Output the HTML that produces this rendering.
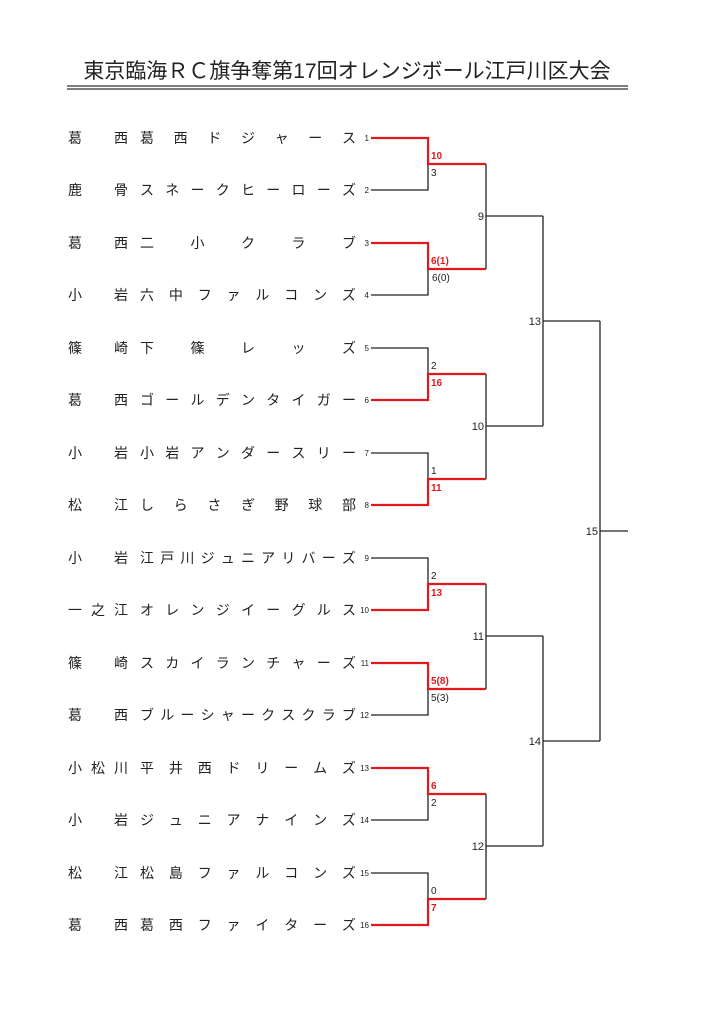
<!DOCTYPE html>
<html><head><meta charset="utf-8"><style>
body{margin:0;width:724px;height:1024px;background:#fff;position:relative;font-family:"Liberation Sans","Noto Sans CJK JP",sans-serif;color:#222;overflow:hidden}
.title{position:absolute;left:47px;width:600px;top:58px;text-align:center;font-size:21px;line-height:28px;white-space:nowrap}
.row{position:absolute;left:68px;width:288px;height:20px;font-size:14px;line-height:20px}
.reg{position:absolute;left:0;width:60px;display:flex;justify-content:space-between}
.nm{position:absolute;left:72px;width:216px;display:flex;justify-content:space-between}
svg{position:absolute;left:0;top:0}
</style></head><body>
<div class="title">東京臨海ＲＣ旗争奪第17回オレンジボール江戸川区大会</div>

<div class="row" style="top:128px"><div class="reg"><span>葛</span><span>西</span></div><div class="nm"><span>葛</span><span>西</span><span>ド</span><span>ジ</span><span>ャ</span><span>ー</span><span>ス</span></div></div>
<div class="row" style="top:180px"><div class="reg"><span>鹿</span><span>骨</span></div><div class="nm"><span>ス</span><span>ネ</span><span>ー</span><span>ク</span><span>ヒ</span><span>ー</span><span>ロ</span><span>ー</span><span>ズ</span></div></div>
<div class="row" style="top:233px"><div class="reg"><span>葛</span><span>西</span></div><div class="nm"><span>二</span><span>小</span><span>ク</span><span>ラ</span><span>ブ</span></div></div>
<div class="row" style="top:285px"><div class="reg"><span>小</span><span>岩</span></div><div class="nm"><span>六</span><span>中</span><span>フ</span><span>ァ</span><span>ル</span><span>コ</span><span>ン</span><span>ズ</span></div></div>
<div class="row" style="top:338px"><div class="reg"><span>篠</span><span>崎</span></div><div class="nm"><span>下</span><span>篠</span><span>レ</span><span>ッ</span><span>ズ</span></div></div>
<div class="row" style="top:390px"><div class="reg"><span>葛</span><span>西</span></div><div class="nm"><span>ゴ</span><span>ー</span><span>ル</span><span>デ</span><span>ン</span><span>タ</span><span>イ</span><span>ガ</span><span>ー</span></div></div>
<div class="row" style="top:443px"><div class="reg"><span>小</span><span>岩</span></div><div class="nm"><span>小</span><span>岩</span><span>ア</span><span>ン</span><span>ダ</span><span>ー</span><span>ス</span><span>リ</span><span>ー</span></div></div>
<div class="row" style="top:495px"><div class="reg"><span>松</span><span>江</span></div><div class="nm"><span>し</span><span>ら</span><span>さ</span><span>ぎ</span><span>野</span><span>球</span><span>部</span></div></div>
<div class="row" style="top:548px"><div class="reg"><span>小</span><span>岩</span></div><div class="nm"><span>江</span><span>戸</span><span>川</span><span>ジ</span><span>ュ</span><span>ニ</span><span>ア</span><span>リ</span><span>バ</span><span>ー</span><span>ズ</span></div></div>
<div class="row" style="top:600px"><div class="reg"><span>一</span><span>之</span><span>江</span></div><div class="nm"><span>オ</span><span>レ</span><span>ン</span><span>ジ</span><span>イ</span><span>ー</span><span>グ</span><span>ル</span><span>ス</span></div></div>
<div class="row" style="top:653px"><div class="reg"><span>篠</span><span>崎</span></div><div class="nm"><span>ス</span><span>カ</span><span>イ</span><span>ラ</span><span>ン</span><span>チ</span><span>ャ</span><span>ー</span><span>ズ</span></div></div>
<div class="row" style="top:705px"><div class="reg"><span>葛</span><span>西</span></div><div class="nm"><span>ブ</span><span>ル</span><span>ー</span><span>シ</span><span>ャ</span><span>ー</span><span>ク</span><span>ス</span><span>ク</span><span>ラ</span><span>ブ</span></div></div>
<div class="row" style="top:758px"><div class="reg"><span>小</span><span>松</span><span>川</span></div><div class="nm"><span>平</span><span>井</span><span>西</span><span>ド</span><span>リ</span><span>ー</span><span>ム</span><span>ズ</span></div></div>
<div class="row" style="top:810px"><div class="reg"><span>小</span><span>岩</span></div><div class="nm"><span>ジ</span><span>ュ</span><span>ニ</span><span>ア</span><span>ナ</span><span>イ</span><span>ン</span><span>ズ</span></div></div>
<div class="row" style="top:863px"><div class="reg"><span>松</span><span>江</span></div><div class="nm"><span>松</span><span>島</span><span>フ</span><span>ァ</span><span>ル</span><span>コ</span><span>ン</span><span>ズ</span></div></div>
<div class="row" style="top:915px"><div class="reg"><span>葛</span><span>西</span></div><div class="nm"><span>葛</span><span>西</span><span>フ</span><span>ァ</span><span>イ</span><span>タ</span><span>ー</span><span>ズ</span></div></div>

<svg width="724" height="1024" viewBox="0 0 724 1024" font-family="Liberation Sans, sans-serif">
<line x1="67" y1="86" x2="628" y2="86" stroke="#333" stroke-width="1.2"/>
<line x1="67" y1="89" x2="628" y2="89" stroke="#333" stroke-width="1.2"/>
<g font-size="8" fill="#222" text-anchor="end">
<text x="369" y="141">1</text><text x="369" y="193">2</text><text x="369" y="246">3</text><text x="369" y="298">4</text>
<text x="369" y="351">5</text><text x="369" y="403">6</text><text x="369" y="456">7</text><text x="369" y="508">8</text>
<text x="369" y="561">9</text><text x="369" y="613">10</text><text x="369" y="666">11</text><text x="369" y="718">12</text>
<text x="369" y="771">13</text><text x="369" y="823">14</text><text x="369" y="876">15</text><text x="369" y="928">16</text>
</g>
<g stroke="#222" stroke-width="1.3" fill="none">
<path d="M371 190H428V164"/>
<path d="M371 295H428V269"/>
<path d="M371 348H428V374"/>
<path d="M371 453H428V479"/>
<path d="M371 558H428V584"/>
<path d="M371 715H428V689"/>
<path d="M371 820H428V794"/>
<path d="M371 873H428V899"/>
<path d="M486 164V269M486 216H543"/>
<path d="M486 374V479M486 426H543"/>
<path d="M486 584V689M486 636H543"/>
<path d="M486 794V899M486 846H543"/>
<path d="M543 216V426M543 321H600"/>
<path d="M543 636V846M543 741H600"/>
<path d="M600 321V741M600 531H628"/>
</g>
<g stroke="#e0191f" stroke-width="2.2" fill="none">
<path d="M371 138H428V164H486"/>
<path d="M371 243H428V269H486"/>
<path d="M371 400H428V374H486"/>
<path d="M371 505H428V479H486"/>
<path d="M371 610H428V584H486"/>
<path d="M371 663H428V689H486"/>
<path d="M371 768H428V794H486"/>
<path d="M371 925H428V899H486"/>
</g>
<g font-size="10" fill="#222">
<text x="431" y="176">3</text>
<text x="432" y="281">6(0)</text>
<text x="431" y="369">2</text>
<text x="431" y="474">1</text>
<text x="431" y="579">2</text>
<text x="431" y="701">5(3)</text>
<text x="431" y="806">2</text>
<text x="431" y="894">0</text>
</g>
<g font-size="10" fill="#e0191f" font-weight="bold">
<text x="431" y="159">10</text>
<text x="431" y="264">6(1)</text>
<text x="431" y="386">16</text>
<text x="431" y="491">11</text>
<text x="431" y="596">13</text>
<text x="431" y="684">5(8)</text>
<text x="431" y="789">6</text>
<text x="431" y="911">7</text>
</g>
<g font-size="11" fill="#222" text-anchor="end">
<text x="484" y="220">9</text>
<text x="484" y="430">10</text>
<text x="484" y="640">11</text>
<text x="484" y="850">12</text>
<text x="541" y="325">13</text>
<text x="541" y="745">14</text>
<text x="598" y="535">15</text>
</g>
</svg>
</body></html>
